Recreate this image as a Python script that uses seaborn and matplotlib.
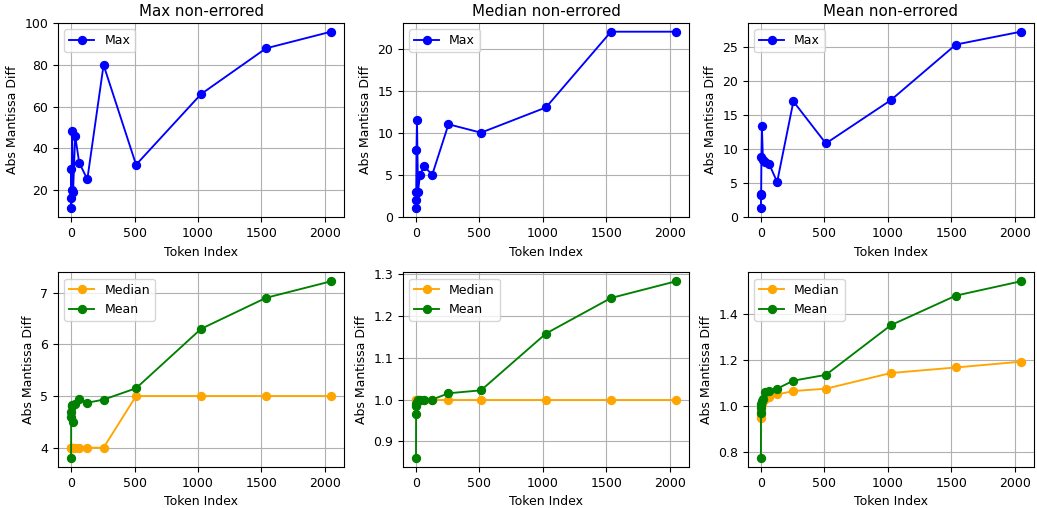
import pandas as pd
import seaborn as sns
import matplotlib.pyplot as plt

# token indices
tokens = [0, 1, 2, 4, 8, 16, 32, 64, 128, 256, 512, 1024, 1536, 2048]

# top row: max of each statistic
max_of_max = [30, 11, 16, 20, 48, 19, 46, 33, 25, 80, 32, 66, 88, 96]
max_of_median = [1, 2, 3, 8, 11.5, 3, 5, 6, 5, 11, 10, 13, 22, 22]
max_of_mean = [1.2, 3.2, 3.3, 8.8, 13.3, 8.4, 8.0, 7.8, 5.1, 17.0, 10.8, 17.2, 25.4, 27.3]

# bottom row: median / mean
med_a = [4, 4, 4, 4, 4, 4, 4, 4, 4, 4, 5, 5, 5, 5]
mean_a = [3.8, 4.6, 4.7, 4.8, 4.82, 4.5, 4.85, 4.95, 4.87, 4.93, 5.15, 6.3, 6.9, 7.22]
med_b = [1.0, 1.0, 1.0, 1.0, 1.0, 1.0, 1.0, 1.0, 1.0, 1.0, 1.0, 1.0, 1.0, 1.0]
mean_b = [0.86, 0.965, 0.985, 0.99, 0.995, 1.0, 0.998, 1.0, 1.0, 1.015, 1.022, 1.158, 1.243, 1.283]
med_c = [0.95, 0.96, 0.98, 1.0, 1.01, 1.02, 1.03, 1.04, 1.05, 1.065, 1.075, 1.143, 1.167, 1.192]
mean_c = [0.775, 0.97, 0.99, 1.01, 1.02, 1.03, 1.06, 1.065, 1.075, 1.11, 1.135, 1.35, 1.478, 1.54]

titles = ['Max non-errored', 'Median non-errored', 'Mean non-errored']

plt.rcParams['font.size'] = 9
plt.rcParams['axes.titlesize'] = 10.8

fig, axes = plt.subplots(2, 3, figsize=(10.37, 5.08), dpi=100)


def draw(ax, y, color, label):
    df = pd.DataFrame({'x': tokens, 'y': y})
    sns.lineplot(data=df, x='x', y='y', ax=ax, color=color, marker='o',
                 markersize=5.8, markeredgecolor=color, markeredgewidth=0.9,
                 linewidth=1.35, estimator=None, sort=False, label=label)


for i, top in enumerate([max_of_max, max_of_median, max_of_mean]):
    ax = axes[0, i]
    draw(ax, top, 'blue', 'Max')
    ax.set_title(titles[i], pad=5)

for i, (med, mean) in enumerate([(med_a, mean_a), (med_b, mean_b), (med_c, mean_c)]):
    ax = axes[1, i]
    draw(ax, med, 'orange', 'Median')
    draw(ax, mean, 'green', 'Mean')

for ax in axes.flat:
    ax.grid(True)
    ax.set_xlabel('Token Index')
    ax.set_ylabel('Abs Mantissa Diff')
    ax.legend(loc='upper left')

axes[0, 0].set_yticks([20, 40, 60, 80, 100])
axes[0, 2].set_yticks([0, 5, 10, 15, 20, 25])
axes[1, 0].set_yticks([4, 5, 6, 7])

plt.subplots_adjust(left=0.056, right=0.997, top=0.955, bottom=0.081,
                    wspace=0.206, hspace=0.284)
plt.savefig('out.png')
